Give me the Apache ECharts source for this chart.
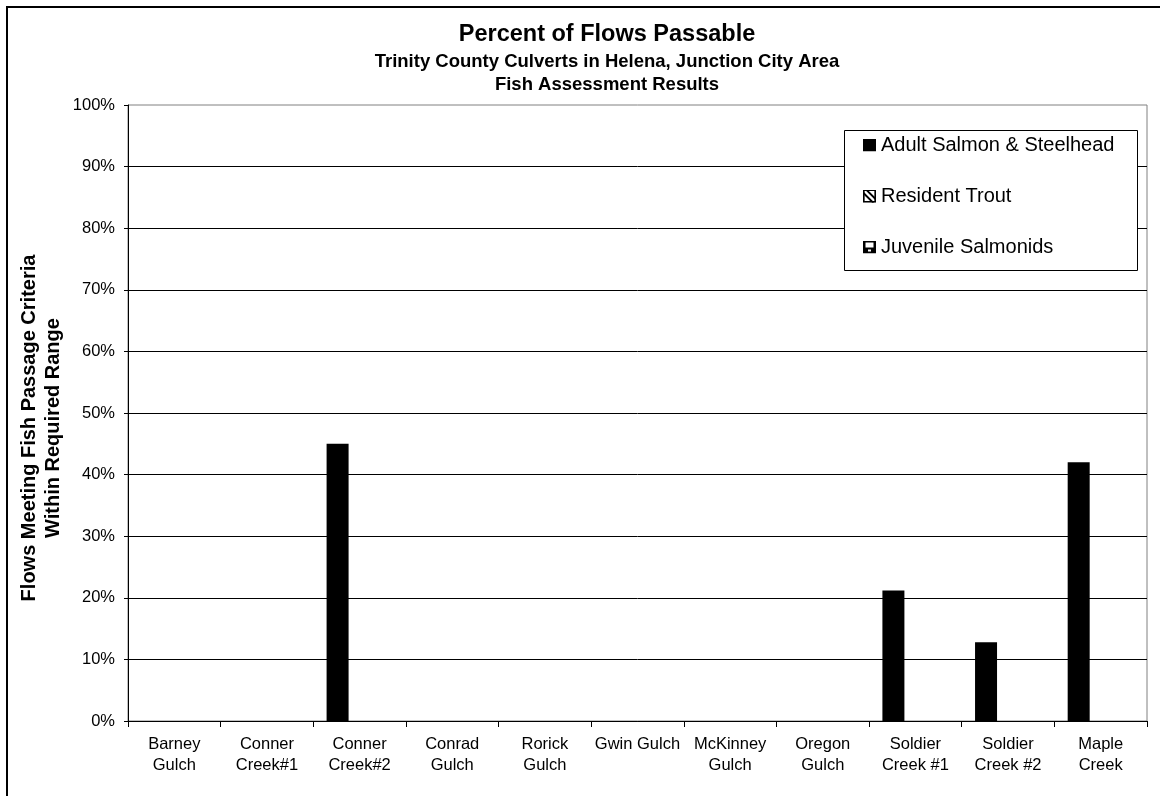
<!DOCTYPE html>
<html>
<head>
<meta charset="utf-8">
<script src="https://cdn.jsdelivr.net/npm/echarts@6/dist/echarts.min.js"></script>
<style>
html,body{margin:0;padding:0;background:#fff;}
#chart{width:1160px;height:796px;}
</style>
</head>
<body>
<div id="chart"></div>
<script>
var categories = ["Barney\nGulch", "Conner\nCreek#1", "Conner\nCreek#2", "Conrad\nGulch", "Rorick\nGulch", "Gwin Gulch", "McKinney\nGulch", "Oregon\nGulch", "Soldier\nCreek #1", "Soldier\nCreek #2", "Maple\nCreek"];
var adultSalmon = [0, 0, 45, 0, 0, 0, 0, 0, 21.2, 12.8, 42];
var residentTrout = [0, 0, 0, 0, 0, 0, 0, 0, 0, 0, 0];
var juvenileSalmonids = [0, 0, 0, 0, 0, 0, 0, 0, 0, 0, 0];
var seriesNames = ["Adult Salmon & Steelhead", "Resident Trout", "Juvenile Salmonids"];
var titleLines = ["Percent of Flows Passable", "Trinity County Culverts in Helena, Junction City Area", "Fish Assessment Results"];
var yAxisTitle = "Flows Meeting Fish Passage Criteria\nWithin Required Range";

var FONT = 'Arial, "Liberation Sans", sans-serif';

function svgIcon(s) {
  return 'image://data:image/svg+xml;charset=utf-8,' + encodeURIComponent(s);
}
var iconAdult = svgIcon('<svg xmlns="http://www.w3.org/2000/svg" width="13" height="13"><rect x="0" y="0" width="13" height="13" fill="#000"/></svg>');
var iconResident = svgIcon('<svg xmlns="http://www.w3.org/2000/svg" width="13" height="13"><rect x="0.5" y="0.5" width="12" height="12" fill="#fff" stroke="#000" stroke-width="1.5"/><g stroke="#000" stroke-width="1.6"><line x1="0" y1="3" x2="10" y2="13"/><line x1="0" y1="-3" x2="16" y2="13"/><line x1="3" y1="0" x2="13" y2="10"/><line x1="-3" y1="0" x2="13" y2="16"/></g><rect x="0.75" y="0.75" width="11.5" height="11.5" fill="none" stroke="#000" stroke-width="1.5"/></svg>');
var iconJuvenile = svgIcon('<svg xmlns="http://www.w3.org/2000/svg" width="13" height="13"><rect x="0" y="0" width="13" height="13" fill="#000"/><rect x="2.5" y="2" width="8" height="5" fill="#fff"/><rect x="5" y="9" width="3" height="2" fill="#fff"/></svg>');

var chart = echarts.init(document.getElementById('chart'), null, {renderer: 'canvas'});

var option = {
  backgroundColor: '#fff',
  animation: false,
  grid: {
    left: 128, top: 105, right: 13, bottom: 75,
    show: true, borderColor: '#808080', borderWidth: 1, backgroundColor: 'transparent'
  },
  graphic: [
    {type: 'rect', z: -10, shape: {x: 7, y: 7, width: 1200, height: 850}, style: {fill: 'none', stroke: '#000', lineWidth: 2}},
    {type: 'text', x: 607, y: 35, style: {text: titleLines[0], font: 'bold 23.5px ' + FONT, fill: '#000', textAlign: 'center', textVerticalAlign: 'middle'}},
    {type: 'text', x: 607, y: 62, style: {text: titleLines[1], font: 'bold 18.5px ' + FONT, fill: '#000', textAlign: 'center', textVerticalAlign: 'middle'}},
    {type: 'text', x: 607, y: 85, style: {text: titleLines[2], font: 'bold 18.5px ' + FONT, fill: '#000', textAlign: 'center', textVerticalAlign: 'middle'}},
    {type: 'text', x: 41, y: 428, rotation: Math.PI / 2, style: {text: yAxisTitle, font: 'bold 20px ' + FONT, lineHeight: 24, fill: '#000', textAlign: 'center', textVerticalAlign: 'middle'}},
    {type: 'rect', z: 3, shape: {x: 844.5, y: 130.5, width: 293, height: 140}, style: {fill: '#fff', stroke: '#000', lineWidth: 1}}
  ],
  legend: {
    orient: 'vertical',
    left: 863, top: 135,
    padding: 0,
    itemWidth: 13, itemHeight: 13,
    itemGap: 31,
    z: 10,
    textStyle: {fontFamily: FONT, fontSize: 20, color: '#000', lineHeight: 20},
    data: [
      {name: seriesNames[0], icon: iconAdult},
      {name: seriesNames[1], icon: iconResident},
      {name: seriesNames[2], icon: iconJuvenile}
    ],
    selectedMode: false
  },
  xAxis: {
    type: 'category',
    data: categories,
    boundaryGap: true,
    axisLine: {show: true, lineStyle: {color: '#000', width: 1}},
    axisTick: {show: true, length: 6, lineStyle: {color: '#000'}, alignWithLabel: false},
    axisLabel: {fontFamily: FONT, fontSize: 16.5, color: '#000', lineHeight: 21, margin: 13, interval: 0},
    splitLine: {show: false}
  },
  yAxis: {
    type: 'value',
    min: 0, max: 100, interval: 10,
    axisLine: {show: true, lineStyle: {color: '#000', width: 1}},
    axisTick: {show: true, length: 4, lineStyle: {color: '#000'}},
    axisLabel: {formatter: '{value}%', fontFamily: FONT, fontSize: 16.5, color: '#000', margin: 13},
    splitLine: {show: true, showMaxLine: false, lineStyle: {color: '#000', width: 1}}
  },
  series: [
    {name: seriesNames[0], type: 'bar', data: adultSalmon, barWidth: 22, barGap: '0%', itemStyle: {color: '#000'}},
    {name: seriesNames[1], type: 'bar', data: residentTrout, barWidth: 22, barGap: '0%', itemStyle: {color: '#fff'}},
    {name: seriesNames[2], type: 'bar', data: juvenileSalmonids, barWidth: 22, barGap: '0%', itemStyle: {color: '#000'}}
  ]
};
chart.setOption(option);
</script>
</body>
</html>
